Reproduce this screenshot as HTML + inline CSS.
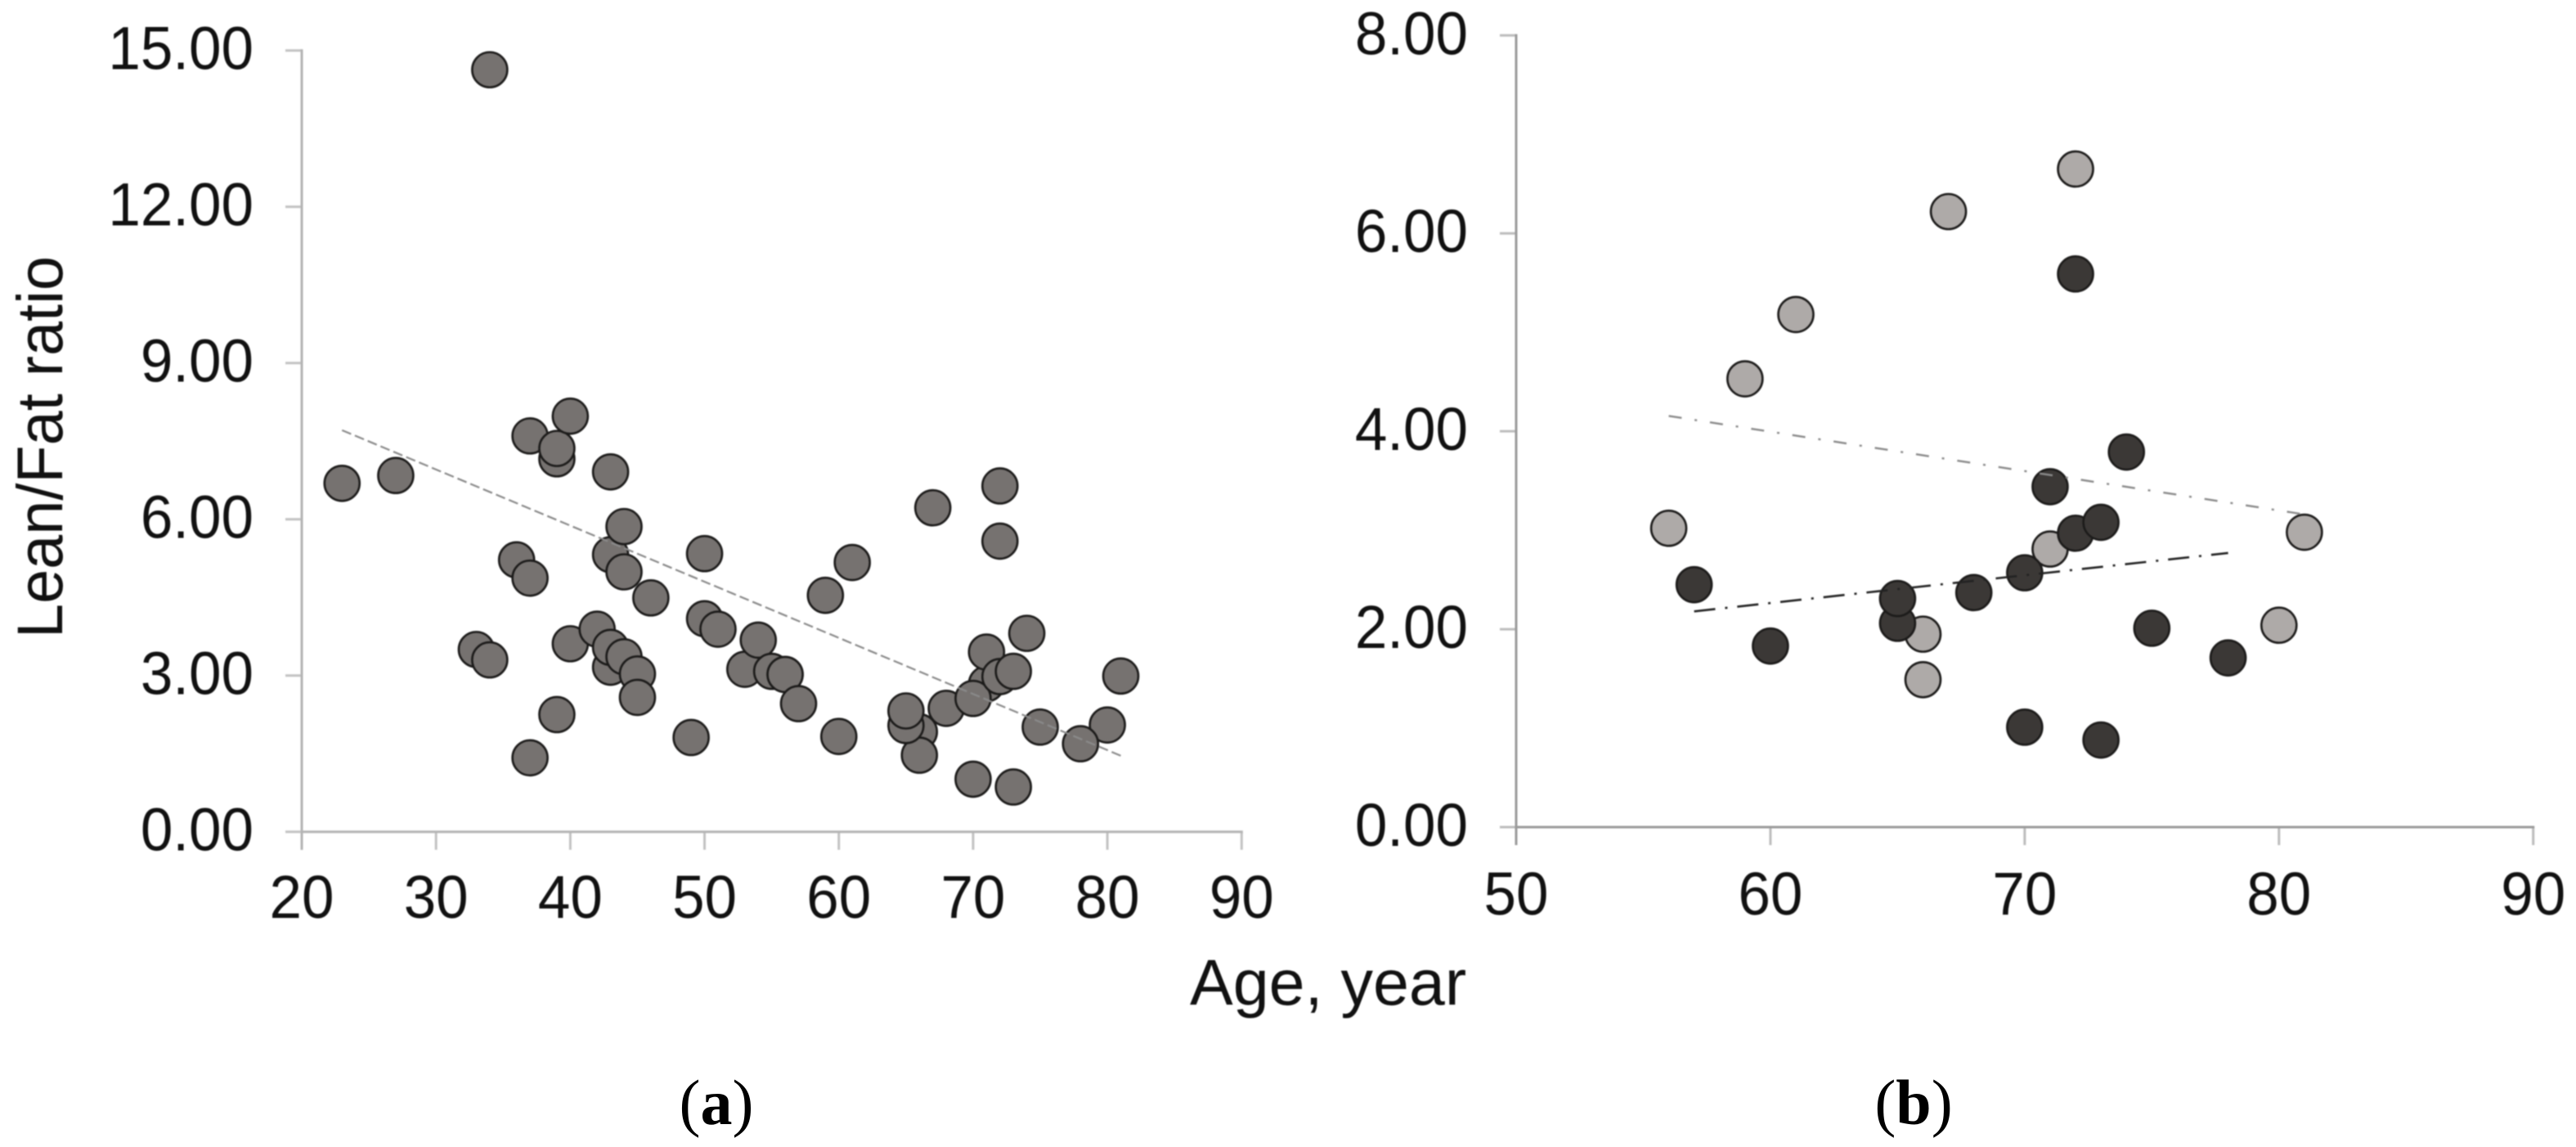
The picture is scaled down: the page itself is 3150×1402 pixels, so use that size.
<!DOCTYPE html>
<html lang="en">
<head>
<meta charset="utf-8">
<title>Lean/Fat ratio versus age</title>
<style>
html,body{margin:0;padding:0;background:#fff;width:3150px;height:1402px;overflow:hidden}
svg{display:block}
text{font-family:"Liberation Sans",Arial,sans-serif;fill:#111}
.soft{filter:blur(0.8px)}
.tick{font-size:74px}
.title{font-size:79px}
.cap{font-family:"Liberation Serif","Times New Roman",serif;font-size:78px;fill:#000}
</style>
</head>
<body>
<svg id="figure" xmlns="http://www.w3.org/2000/svg" width="3150" height="1402" viewBox="0 0 3150 1402">
  <g class="soft">
    <g id="panel-a"></g>
    <g id="panel-b"></g>
    <text class="title" x="0" y="0" transform="translate(76,780) rotate(-90)" textLength="467" lengthAdjust="spacingAndGlyphs">Lean/Fat ratio</text>
    <text class="title" x="1455" y="1228">Age, year</text>
  </g>
  <text class="cap" x="876" y="1374" text-anchor="middle">(<tspan font-weight="bold">a</tspan>)</text>
  <text class="cap" x="2340" y="1374" text-anchor="middle">(<tspan font-weight="bold">b</tspan>)</text>
</svg>
<script>
// Panel (a) data
const aAges = [23,27,33,34,34,36,37,37,37,39,39,39,40,40,42,43,43,43,43,44,44,44,45,45,46,49,50,50,51,53,54,55,56,56,59,61,66,66,67,71,72,80,81,57,60,65,65,68,70,70,71,72,72,73,73,74,75,78];
const aRatios = [6.69,6.84,3.50,3.30,14.63,5.22,7.60,4.87,1.42,7.16,7.36,2.25,7.98,3.61,3.89,6.91,5.32,3.16,3.54,5.86,4.99,3.36,3.03,2.58,4.49,1.81,5.34,4.09,3.89,3.12,3.68,3.08,3.02,3.02,4.54,5.17,1.92,1.47,6.22,2.84,6.64,2.05,2.99,2.46,1.83,2.04,2.32,2.37,2.56,1.01,3.45,5.58,2.98,3.08,0.86,3.81,2.01,1.69];
const aTrendAges = [23,81];
const aTrendRatios = [7.71,1.46];
const aXTicks = ['20','30','40','50','60','70','80','90'];
const aYTicks = ['0.00','3.00','6.00','9.00','12.00','15.00'];

// Panel (b) data
const bLightAges = [56,59,61,66,66,67,71,72,80,81];
const bLightRatios = [3.02,4.53,5.18,1.95,1.49,6.22,2.81,6.65,2.04,2.98];
const bDarkAges = [57,60,65,65,68,70,70,71,72,72,73,73,74,75,78];
const bDarkRatios = [2.45,1.83,2.06,2.31,2.37,2.57,1.01,3.44,5.59,2.97,3.08,0.88,3.79,2.01,1.71];
const bLightTrendAges = [56,81];
const bLightTrendRatios = [4.155,3.16];
const bDarkTrendAges = [57,78];
const bDarkTrendRatios = [2.18,2.77];
const bXTicks = ['50','60','70','80','90'];
const bYTicks = ['0.00','2.00','4.00','6.00','8.00'];

const NS = 'http://www.w3.org/2000/svg';

function scale(d0, d1, r0, r1) {
  return function (v) { return r0 + (v - d0) * (r1 - r0) / (d1 - d0); };
}

function make(parent, tag, attrs) {
  const el = document.createElementNS(NS, tag);
  for (const k in attrs) el.setAttribute(k, attrs[k]);
  parent.appendChild(el);
  return el;
}

function labelWidth(t) {
  let w = 0;
  for (const ch of t) w += (ch === '.' ? 0.278 : 0.556);
  return w * 71;
}

function drawAxes(g, xs, ys, xTicks, yTicks, axisColor, tickColor, yLabelRight, xLabelBase) {
  const x0 = xs(+xTicks[0]), x1 = xs(+xTicks[xTicks.length - 1]);
  const y0 = ys(+yTicks[0]), y1 = ys(+yTicks[yTicks.length - 1]);

  xTicks.forEach(function (t) {
    const px = xs(+t);
    const tick = make(g, 'line', {x1: px, x2: px, y1: y0, y2: y0 + 22, stroke: tickColor, 'stroke-width': 3});
    
    
    const label = make(g, 'text', {x: px, y: xLabelBase, 'text-anchor': 'middle', class: 'tick', textLength: labelWidth(t), lengthAdjust: 'spacingAndGlyphs'});
    label.textContent = t;
    
    
  });

  yTicks.forEach(function (t) {
    const py = ys(+t);
    const tick = make(g, 'line', {x1: x0 - 20, x2: x0, y1: py, y2: py, stroke: tickColor, 'stroke-width': 3});
    
    
    const label = make(g, 'text', {x: yLabelRight, y: py + 23, 'text-anchor': 'end', class: 'tick', textLength: labelWidth(t), lengthAdjust: 'spacingAndGlyphs'});
    label.textContent = t;
    
    
  });

  const xAxis = make(g, 'line', {x1: x0 - 1.5, x2: x1 + 1.5, y1: y0, y2: y0, stroke: axisColor, 'stroke-width': 3});
  
  
  const yAxis = make(g, 'line', {x1: x0, x2: x0, y1: y1 - 1.5, y2: y0 + 22, stroke: axisColor, 'stroke-width': 3});
  
  
}

function drawPoints(g, xs, ys, ages, ratios, fill, name) {
  ages.forEach(function (a, i) {
    const c = make(g, 'circle', {cx: xs(a), cy: ys(ratios[i]), r: 21.5, fill: fill, stroke: '#1c1b1a', 'stroke-width': 2.6});
    
    
  });
}

function drawTrend(g, xs, ys, ages, ratios, color, dash, width, name) {
  const l = make(g, 'line', {x1: xs(ages[0]), y1: ys(ratios[0]), x2: xs(ages[1]), y2: ys(ratios[1]), stroke: color, 'stroke-width': width, 'stroke-dasharray': dash});
  
  
}

// Panel (a)
const gA = document.getElementById('panel-a');
const xA = scale(20, 90, 369, 1518.3);
const yA = scale(0, 15, 1016.7, 61.7);
drawAxes(gA, xA, yA, aXTicks, aYTicks, '#b4b4b4', '#c2c2c2', 310, 1122);
drawPoints(gA, xA, yA, aAges, aRatios, '#767270', 'point-a');
drawTrend(gA, xA, yA, aTrendAges, aTrendRatios, '#8a8a8a', '12 5', 2.2, 'trend-line-a');

// Panel (b)
const gB = document.getElementById('panel-b');
const xB = scale(50, 90, 1854, 3097.7);
const yB = scale(0, 8, 1011, 43.3);
drawAxes(gB, xB, yB, bXTicks, bYTicks, '#9a9a9a', '#bcbcbc', 1795, 1118);
drawPoints(gB, xB, yB, bLightAges, bLightRatios, '#aeaaa8', 'point-b-light');
drawPoints(gB, xB, yB, bDarkAges, bDarkRatios, '#3b3836', 'point-b-dark');
drawTrend(gB, xB, yB, bLightTrendAges, bLightTrendRatios, '#8a8a8a', '16 16 3 16', 2.4, 'trend-line-b-light');
drawTrend(gB, xB, yB, bDarkTrendAges, bDarkTrendRatios, '#222', '26 12 3 12', 2.6, 'trend-line-b-dark');
</script>
</body>
</html>
